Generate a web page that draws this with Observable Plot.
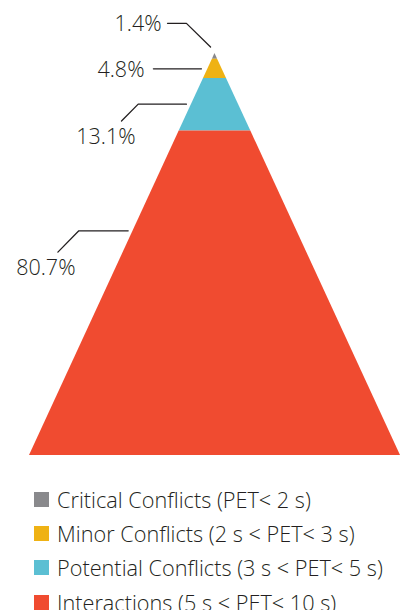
<!DOCTYPE html>
<html><head><meta charset="utf-8">
<script src="https://cdn.jsdelivr.net/npm/d3@7"></script>
<script src="https://cdn.jsdelivr.net/npm/@observablehq/plot@0.6"></script>
<style>
body{margin:0;background:#fff;font-family:"Open Sans",sans-serif;color:#231f20;}
#chart svg{display:block;}
.legend{margin-top:17px;padding-left:34px;}
.legend .row{display:flex;align-items:center;height:34.3px;font-size:21.7px;font-weight:300;white-space:nowrap;}
.legend .sw{width:15px;height:15px;margin-right:8px;flex:none;}
</style></head><body>
<div id="chart"></div>
<div class="legend" id="legend"></div>
<script>
const categories = ["Critical Conflicts (PET< 2 s)", "Minor Conflicts (2 s < PET< 3 s)", "Potential Conflicts (3 s < PET< 5 s)", "Interactions (5 s < PET< 10 s)"];
const shares = [1.4, 4.8, 13.1, 80.7];
const shareLabels = ["1.4%", "4.8%", "13.1%", "80.7%"];
const colors = ["#89898c", "#efb214", "#5bbfd3", "#f04b30"];

// leader-line layout (in chart data units), one polyline per label
const leaderPaths = [
  [[-25.6, -7.5], [-15.4, -7.5], [-2.4, -1.6]],
  [[-33.2, 3.8], [-7.3, 3.8]],
  [[-50.4, 16.8], [-41.4, 12.6], [-15.4, 12.6]],
  [[-84.7, 49.4], [-73.4, 44.1], [-46.8, 44.1]]
];
const labelAnchors = [[-28.8, -7.3], [-38.0, 4.1], [-42.8, 20.9], [-75.2, 53.5]];

// build pyramid layers: height proportional to share, width proportional to depth
let cum = 0;
const layers = [];
categories.forEach((c, i) => {
  const y0 = cum, y1 = cum + shares[i];
  layers.push({key: c, y: y0, xl: -y0, xr: y0});
  layers.push({key: c, y: y1, xl: -y1, xr: y1});
  cum = y1;
});
const leaderRows = leaderPaths.flatMap((p, i) => p.map(([x, y]) => ({id: i, x, y})));
const labelRows = shareLabels.map((t, i) => ({text: t, x: labelAnchors[i][0], y: labelAnchors[i][1]}));

const chart = Plot.plot({
  width: 400,
  height: 465,
  marginTop: 53,
  marginBottom: 10,
  marginLeft: 29,
  marginRight: 0,
  x: {domain: [-100, 100], axis: null},
  y: {domain: [0, 100], reverse: true, axis: null},
  color: {domain: categories, range: colors},
  style: {fontFamily: "Open Sans, sans-serif", background: "#fff", overflow: "visible"},
  marks: [
    Plot.areaX(layers, {y: "y", x1: "xl", x2: "xr", z: "key", fill: "key", curve: "linear"}),
    Plot.line(leaderRows, {x: "x", y: "y", z: "id", stroke: "#231f20", strokeWidth: 1.3, curve: "linear"}),
    Plot.text(labelRows, {x: "x", y: "y", text: "text", textAnchor: "end", lineAnchor: "middle", fontSize: 21.5, fontWeight: 300, fill: "#231f20"})
  ]
});
document.getElementById("chart").appendChild(chart);

const legend = document.getElementById("legend");
categories.forEach((c, i) => {
  const row = document.createElement("div");
  row.className = "row";
  const sw = document.createElement("span");
  sw.className = "sw";
  sw.style.background = colors[i];
  const tx = document.createElement("span");
  tx.textContent = c;
  row.appendChild(sw); row.appendChild(tx);
  legend.appendChild(row);
});
</script>
</body></html>
